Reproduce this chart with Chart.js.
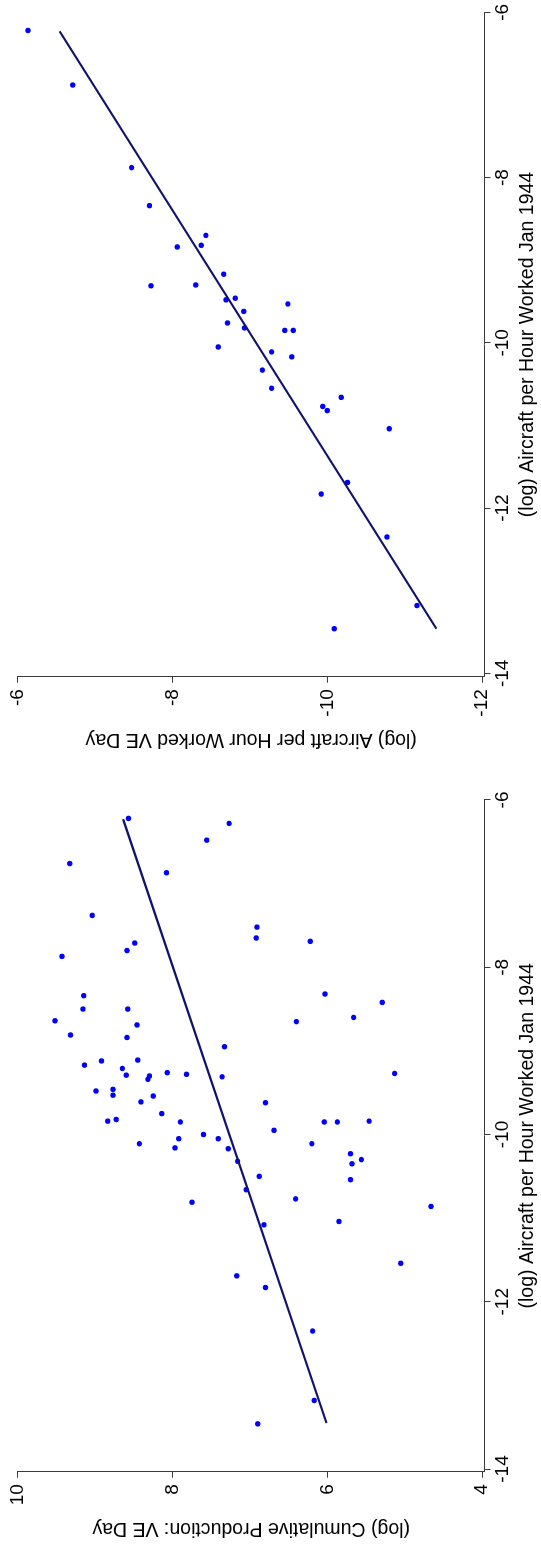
<!DOCTYPE html>
<html>
<head>
<meta charset="utf-8">
<script src="https://cdn.jsdelivr.net/npm/chart.js@4.4.0/dist/chart.umd.min.js"></script>
<style>
  html, body { margin: 0; padding: 0; background: #fff; }
  body { width: 541px; height: 1545px; overflow: hidden; position: relative; }
  /* the figure is laid out landscape and turned a quarter to the left */
  #sheet { position: absolute; left: 0; top: 0; width: 1545px; height: 541px;
           transform-origin: 0 0; transform: translateY(1545px) rotate(-90deg); }
  #sheet canvas { position: absolute; top: 0; }
</style>
</head>
<body>
<div id="sheet">
  <canvas id="graficoProd" width="772" height="541" style="left:0"></canvas>
  <canvas id="graficoVE" width="773" height="541" style="left:772px"></canvas>
</div>
<script>
// (log) Aircraft per Hour Worked Jan 1944 vs (log) Cumulative Production: VE Day
const prodX = [-6.22, -6.28, -6.48, -6.76, -6.87, -7.38, -7.52, -7.65, -7.69, -7.71,
  -7.80, -7.87, -8.34, -8.32, -8.42, -8.50, -8.50, -8.60, -8.64, -8.65,
  -8.69, -8.81, -8.84, -8.95, -9.17, -9.12, -9.11, -9.21, -9.29, -9.30,
  -9.34, -9.26, -9.28, -9.31, -9.27, -9.48, -9.46, -9.53, -9.54, -9.61,
  -9.62, -9.75, -9.85, -9.84, -9.82, -9.85, -9.85, -9.84, -9.95, -10.00,
  -10.05, -10.05, -10.11, -10.16, -10.17, -10.11, -10.23, -10.30, -10.35, -10.32,
  -10.50, -10.54, -10.66, -10.77, -10.81, -10.86, -11.08, -11.04, -11.54, -11.69,
  -11.83, -12.35, -13.18, -13.46];
const prodY = [8.57, 7.27, 7.56, 9.33, 8.08, 9.04, 6.91, 6.92, 6.22, 8.49,
  8.59, 9.43, 9.15, 6.03, 5.29, 9.16, 8.58, 5.66, 9.52, 6.40,
  8.46, 9.32, 8.59, 7.33, 9.14, 8.92, 8.45, 8.65, 8.60, 8.30,
  8.32, 8.07, 7.82, 7.36, 5.13, 8.99, 8.77, 8.77, 8.25, 8.41,
  6.80, 8.14, 7.90, 8.84, 8.73, 6.04, 5.87, 5.46, 6.69, 7.60,
  7.92, 7.41, 8.43, 7.97, 7.28, 6.20, 5.70, 5.56, 5.68, 7.16,
  6.88, 5.70, 7.05, 6.41, 7.75, 4.66, 6.82, 5.85, 5.05, 7.17,
  6.80, 6.19, 6.17, 6.90];
const prodFitX = [-13.45, -6.23];
const prodFitY = [6.01, 8.64];

// (log) Aircraft per Hour Worked Jan 1944 vs (log) Aircraft per Hour Worked VE Day
const veX = [-6.22, -6.88, -7.88, -8.34, -8.70, -8.82, -8.84, -9.17, -9.31, -9.30,
  -9.46, -9.48, -9.62, -9.53, -9.76, -9.82, -9.85, -9.85, -10.05, -10.11,
  -10.17, -10.33, -10.55, -10.66, -10.77, -10.82, -11.04, -11.69, -11.83, -12.35,
  -13.18, -13.46];
const veY = [-6.13, -6.71, -7.47, -7.70, -8.43, -8.37, -8.06, -8.66, -7.72, -8.30,
  -8.81, -8.69, -8.92, -9.49, -8.71, -8.93, -9.45, -9.56, -8.59, -9.28,
  -9.54, -9.16, -9.28, -10.18, -9.94, -10.00, -10.80, -10.26, -9.92, -10.77,
  -11.16, -10.09];
const veFitX = [-13.46, -6.23];
const veFitY = [-11.41, -6.54];

const xTicks = [-14, -12, -10, -8, -6];
const prodTicks = [4, 6, 8, 10];
const veTicks = [-12, -10, -8, -6];

const corEixo = '#3a3a3a';
Chart.defaults.font.family = '"Liberation Sans", Arial, sans-serif';
Chart.defaults.font.size = 19;
Chart.defaults.color = '#000';

function pares(xs, ys) {
  return xs.map((x, i) => ({ x: x, y: ys[i] }));
}

function criaGrafico(id, cfg) {
  return new Chart(document.getElementById(id), {
    type: 'scatter',
    data: {
      datasets: [{
        data: pares(cfg.fitX, cfg.fitY),
        showLine: true,
        borderColor: '#12126e',
        borderWidth: 2.2,
        pointRadius: 0,
        order: 0
      }, {
        data: pares(cfg.x, cfg.y),
        backgroundColor: '#0000ff',
        pointRadius: 2.7,
        pointBorderWidth: 0,
        borderWidth: 0,
        order: 1
      }]
    },
    options: {
      responsive: false,
      animation: false,
      layout: { padding: { top: 15.5, right: cfg.padRight, bottom: 0, left: 0 } },
      plugins: { legend: { display: false }, tooltip: { enabled: false } },
      scales: {
        x: {
          type: 'linear',
          min: cfg.xMin,
          max: -6,
          afterBuildTicks: s => { s.ticks = xTicks.map(v => ({ value: v })); },
          afterFit: s => { s.height = 56.5; },
          ticks: { padding: 1, maxRotation: 0, autoSkip: false, callback: v => String(v) },
          grid: { drawOnChartArea: false, tickLength: 6, tickColor: corEixo },
          border: { color: corEixo },
          title: { display: true, text: '(log) Aircraft per Hour Worked Jan 1944',
                   font: { size: 19.5 }, padding: { top: 0, bottom: 1.4 } }
        },
        y: {
          type: 'linear',
          min: cfg.yMin,
          max: cfg.yMax,
          afterBuildTicks: s => { s.ticks = cfg.yTicks.map(v => ({ value: v })); },
          afterFit: s => { s.width = cfg.yWidth; },
          ticks: { padding: 6.5, autoSkip: false, callback: v => String(v) },
          grid: { drawOnChartArea: false, tickLength: 6, tickColor: corEixo },
          border: { color: corEixo },
          title: { display: true, text: cfg.yTitle, font: { size: 19.5 },
                   padding: { top: cfg.titlePad, bottom: 0 } }
        }
      }
    }
  });
}

criaGrafico('graficoProd', {
  x: prodX, y: prodY, fitX: prodFitX, fitY: prodFitY,
  xMin: -14.032, yMin: 3.968, yMax: 10, yTicks: prodTicks,
  yWidth: 73.3, padRight: 27, titlePad: 5,
  yTitle: '(log) Cumulative Production: VE Day'
});

criaGrafico('graficoVE', {
  x: veX, y: veY, fitX: veFitX, fitY: veFitY,
  xMin: -14.041, yMin: -12.032, yMax: -6, yTicks: veTicks,
  yWidth: 96.3, padRight: 12.3, titlePad: 21.6,
  yTitle: '(log) Aircraft per Hour Worked VE Day'
});
</script>
</body>
</html>
